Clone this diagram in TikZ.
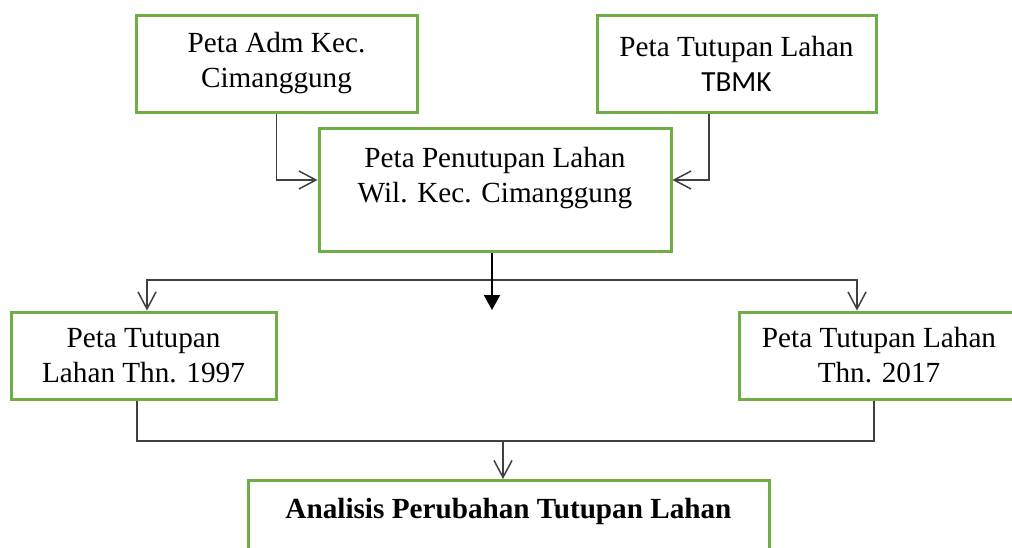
\documentclass[tikz,border=0pt]{standalone}
\usepackage{fontspec}
\setmainfont{Liberation Serif}
\newfontfamily\tbmkfont{Carlito}
\usetikzlibrary{arrows.meta}
\definecolor{boxgreen}{HTML}{70AD47}
\definecolor{linegray}{HTML}{404040}

\begin{document}
\begin{tikzpicture}[x=0.5pt, y=-0.5pt,
        basebox/.style={draw=boxgreen, line width=1.5pt, rectangle, inner sep=0pt, font=\fontsize{14.6}{17.5}\selectfont},
        mapbox/.style={basebox, align=center},
        flow/.style={draw=linegray, line width=0.75pt, -{Straight Barb[length=8.5pt,width=9pt]}},
        joint/.style={draw=linegray, line width=0.75pt},
        mainflow/.style={draw=black, line width=1pt, -{Triangle[length=7.5pt,width=8pt]}}]
        \useasboundingbox (0,0) rectangle (1012,547);
        \clip (0,0) rectangle (1012,547);

        % Input maps
        \node[mapbox, minimum width=140.5pt, minimum height=48.5pt] (adm) at (276.5,63.5) {Peta Adm Kec.\\Cimanggung};
        \node[mapbox, minimum width=139.5pt, minimum height=48.5pt] (tbmk) at (736.5,63.5) {Peta Tutupan Lahan\\{\tbmkfont TBMK}};

        % Overlay
        \node[mapbox, minimum width=176pt, minimum height=61.5pt] (wil) at (495,189.5) {};
        \node[align=center, inner sep=0pt, font=\fontsize{14.6}{17.5}\selectfont] (wiltext) at (495,178) {Peta Penutupan Lahan\\Wil. Kec. Cimanggung};

        % Years
        \node[mapbox, minimum width=132.5pt, minimum height=43.5pt] (thn97) at (143.5,355.5) {Peta Tutupan\\Lahan Thn. 1997};
        \node[mapbox, minimum width=140pt, minimum height=43.5pt] (thn17) at (879,355.5) {Peta Tutupan Lahan\\Thn. 2017};

        % Analysis
        \node[basebox, anchor=north, minimum width=260.5pt, text height=19pt, text depth=60pt,
            font=\bfseries\fontsize{14.6}{17.5}\selectfont] (analisis) at (508.5,479) {Analisis Perubahan Tutupan Lahan};

        % Arrows
        \draw[flow] (adm.south) |- (wil.west |- 0,180);
        \draw[flow] (tbmk.south -| 709,0) |- (wil.east |- 0,180);

        \coordinate (split) at (492,280);
        \coordinate (splitend) at (492,310);
        \draw[flow] (split) -| (thn97.north -| 147,0);
        \draw[flow] (split) -| (thn17.north -| 857,0);
        \draw[mainflow] (wil.south -| split) -- (splitend);

        \coordinate (merge) at (503,441);
        \draw[joint] (thn97.south -| 137,0) |- (merge);
        \draw[joint] (thn17.south -| 874,0) |- (merge);
        \draw[flow] (merge) -- (analisis.north -| merge);
    \end{tikzpicture}
\end{document}
